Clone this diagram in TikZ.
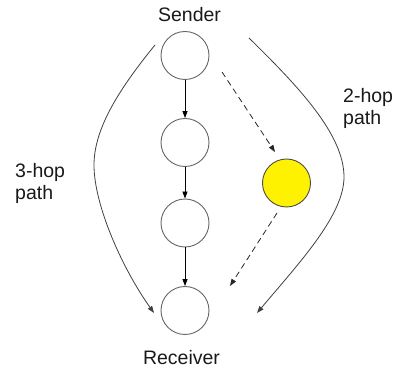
\documentclass[tikz,border=0pt]{standalone}
\usepackage{fontspec}
\setmainfont{Liberation Sans}
\usetikzlibrary{arrows.meta}
\begin{document}
\begin{tikzpicture}[x=1pt,y=-1pt,
  hop/.style={circle,draw=black!60,line width=0.9pt,minimum size=48pt,inner sep=0pt},
  relay/.style={hop,fill=yellow,draw=black!70},
  caption/.style={font=\fontsize{19.5}{22}\selectfont,inner sep=0pt,text=black!90},
  tip/.style={-{Triangle[length=7pt,width=5pt]}},
  hoparrow/.style={tip,draw=black,line width=0.8pt},
  skip/.style={tip,draw=black!85,line width=0.8pt,dash pattern=on 6pt off 4pt},
  route/.style={tip,draw=black!75,line width=0.8pt}]
\useasboundingbox (0,0) rectangle (400,374);

% chain of hops
\node[hop] (s)  at (185,55.5) {};
\node[hop] (h1) at (185,142.5) {};
\node[hop] (h2) at (185,223) {};
\node[hop] (r)  at (185,310.5) {};
\node[relay] (y) at (286.5,183) {};

\node[caption,anchor=base] (stxt) at (189.5,22) {Sender};
\node[caption,anchor=base] (rtxt) at (181.5,365) {Receiver};
\node[caption,anchor=north west,align=left] (three) at (15,163) {3-hop\\path};
\node[caption,anchor=north west,align=left] (two) at (343,88) {2-hop\\path};

% solid hop-by-hop arrows
\draw[hoparrow] (s.south) -- (h1.north);
\draw[hoparrow] (h1.south) -- (h2.north);
\draw[hoparrow] (h2.south) -- (r.north);

% dashed route through the relay
\coordinate (d1a) at (222,72);
\coordinate (d1b) at (275,152);
\coordinate (d2a) at (277,213);
\coordinate (d2b) at (230,286);
\draw[skip] (d1a) -- (d1b);
\draw[skip] (d2a) -- (d2b);

% path brackets
\coordinate (l1) at (155,45);
\coordinate (lm) at (94,165);
\coordinate (l2) at (154,313);
\draw[route] (l1) .. controls (120,88) and (94,128) .. (lm)
                  .. controls (94,205) and (122,268) .. (l2);

\coordinate (r1) at (249,38);
\coordinate (rm) at (344,177);
\coordinate (r2) at (257,313);
\draw[route] (r1) .. controls (300,88) and (344,135) .. (rm)
                  .. controls (344,215) and (300,262) .. (r2);
\end{tikzpicture}
\end{document}
